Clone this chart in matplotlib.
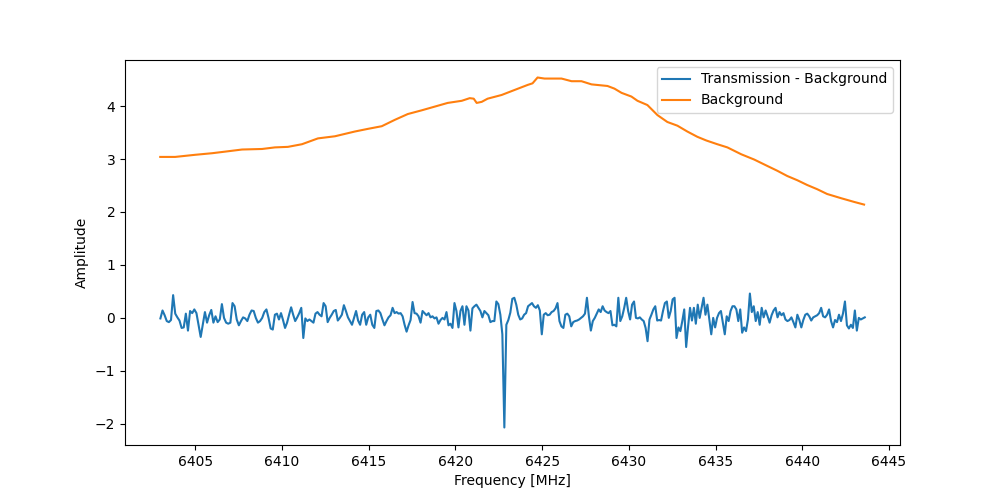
import numpy as np
import matplotlib
matplotlib.use("Agg")
import matplotlib.pyplot as plt

# Frequency edges of the segments (MHz)
seg_edges = [6403.0, 6409.6, 6416.5, 6423.4, 6430.3, 6437.2, 6443.6]

# Transmission - Background amplitude, read segment by segment
seg1 = [-0.01, 0.14, 0.05, -0.06, -0.08, -0.04, 0.43, 0.08, 0.01, -0.05,
        -0.19, -0.18, 0.08, -0.24, 0.13, 0.09, 0.16, 0.09, -0.13, -0.36,
        -0.13, 0.11, -0.09, 0.05, 0.15, -0.09, 0.03, -0.08, -0.03, 0.26,
        0.00, -0.09, -0.11, -0.09, 0.28, 0.22, -0.03, -0.14, -0.06, 0.01,
        -0.01, -0.06, 0.06, 0.14, 0.13, 0.00, -0.09, -0.06, 0.00, 0.11,
        0.16, 0.00, -0.20, -0.22]
seg2 = [0.06, 0.08, -0.03, 0.09, -0.04, -0.19, -0.09, 0.06, 0.20, 0.06,
        -0.06, 0.01, 0.09, 0.19, -0.38, -0.01, -0.06, -0.03, -0.06, -0.09,
        0.08, 0.11, 0.06, 0.03, 0.28, 0.22, -0.08, 0.00, 0.06, 0.13,
        0.15, -0.05, 0.00, 0.06, 0.24, 0.13, 0.01, -0.06, -0.13, 0.00,
        0.13, -0.05, -0.13, 0.06, 0.11, -0.13, 0.01, 0.06, -0.13, -0.19,
        0.13, 0.14, 0.09, -0.03, -0.14, -0.06, 0.01, 0.05, 0.19]
seg3 = [0.09, 0.11, 0.08, 0.09, 0.03, -0.13, -0.26, -0.14, -0.04, 0.30,
        0.09, 0.08, 0.03, -0.09, 0.13, 0.09, 0.05, 0.09, 0.01, 0.03,
        -0.01, 0.01, -0.11, -0.04, 0.00, -0.03, 0.11, -0.14, -0.11, -0.19,
        0.28, 0.13, -0.18, 0.13, 0.22, -0.13, 0.22, 0.14, -0.24, 0.18,
        0.22, 0.25, 0.19, 0.13, 0.01, 0.13, 0.09, 0.05, -0.08, -0.06,
        -0.06, 0.31, 0.26, 0.06, -0.31, -2.07, -0.13, -0.04, 0.10, 0.36]
seg4 = [0.38, 0.25, 0.06, -0.03, -0.01, 0.06, 0.09, 0.22, 0.25, 0.28,
        0.22, 0.19, 0.24, 0.14, -0.31, 0.06, 0.09, 0.05, 0.06, 0.11,
        0.13, 0.18, 0.28, -0.06, -0.16, -0.19, 0.06, 0.08, 0.03, -0.16,
        -0.08, -0.06, -0.05, -0.03, 0.00, 0.03, 0.08, 0.38, 0.03, -0.24,
        -0.06, 0.00, 0.08, 0.16, 0.11, 0.22, 0.14, 0.11, 0.09, 0.13,
        -0.14, -0.13, -0.16, 0.38, -0.06, 0.03, 0.19, 0.38, 0.13, -0.03,
        0.25]
seg5 = [0.31, 0.00, -0.01, 0.01, -0.03, -0.06, -0.19, -0.44, -0.03, 0.06,
        0.16, 0.22, -0.05, -0.04, -0.05, 0.13, 0.28, 0.31, 0.00, 0.13,
        0.35, 0.38, -0.38, -0.18, -0.25, -0.06, 0.16, -0.55, -0.16, 0.19,
        -0.05, 0.19, -0.11, 0.25, 0.00, 0.19, 0.38, 0.06, 0.25, -0.03,
        -0.31, 0.00, -0.18, 0.00, 0.09, 0.13, -0.09, -0.31, 0.03, -0.06,
        0.13, 0.22, 0.22, 0.16, -0.06, 0.16, -0.28, -0.18, -0.25, -0.03,
        0.46, 0.11]
seg6 = [0.22, -0.06, 0.11, -0.13, 0.19, 0.01, 0.14, 0.03, -0.09, 0.05,
        0.14, 0.19, 0.01, 0.11, 0.05, 0.09, -0.03, -0.06, -0.04, 0.01,
        -0.08, -0.18, 0.06, -0.04, -0.18, -0.04, 0.06, 0.08, 0.03, -0.05,
        0.01, 0.03, 0.05, 0.09, 0.19, 0.03, 0.01, 0.06, 0.16, -0.06,
        -0.18, -0.04, -0.08, 0.06, -0.06, 0.08, 0.31, -0.14, -0.20, -0.13,
        -0.19, 0.14, -0.24, 0.00, -0.03, -0.01, 0.01]

# Background curve
bg_freq = [6402.99, 6403.85, 6405.00, 6405.98, 6406.73, 6407.71, 6408.86,
           6409.60, 6410.35, 6411.16, 6412.08, 6413.06, 6414.21, 6414.96,
           6415.76, 6416.51, 6417.26, 6418.06, 6418.81, 6419.56, 6420.37,
           6420.83, 6421.06, 6421.23, 6421.52, 6421.86, 6422.67, 6423.30,
           6424.17, 6424.45, 6424.74, 6425.14, 6426.12, 6426.70, 6427.27,
           6427.85, 6428.77, 6429.17, 6429.58, 6430.15, 6430.50, 6431.07,
           6431.65, 6432.22, 6432.80, 6433.37, 6433.95, 6434.47, 6435.10,
           6435.68, 6436.48, 6437.23, 6437.98, 6438.55, 6439.13, 6439.71,
           6440.28, 6440.86, 6441.43, 6442.24, 6442.99, 6443.56]
bg_amp = [3.04, 3.04, 3.08, 3.11, 3.14, 3.18, 3.19,
          3.22, 3.23, 3.28, 3.39, 3.43, 3.52, 3.57,
          3.62, 3.74, 3.85, 3.92, 3.99, 4.06, 4.10,
          4.15, 4.14, 4.06, 4.08, 4.14, 4.21, 4.29,
          4.40, 4.43, 4.54, 4.52, 4.52, 4.47, 4.47,
          4.41, 4.38, 4.33, 4.25, 4.18, 4.10, 4.02,
          3.83, 3.70, 3.63, 3.52, 3.42, 3.35, 3.28,
          3.22, 3.09, 2.99, 2.87, 2.78, 2.68, 2.60,
          2.51, 2.43, 2.34, 2.26, 2.19, 2.14]

segments = [seg1, seg2, seg3, seg4, seg5, seg6]
freq_parts = []
for i, seg in enumerate(segments):
    last = (i == len(segments) - 1)
    freq_parts.append(np.linspace(seg_edges[i], seg_edges[i + 1], len(seg),
                                  endpoint=last))
trans_freq = np.concatenate(freq_parts)
trans_amp = np.concatenate([np.array(s) for s in segments])

fig, ax = plt.subplots(figsize=(10, 5), dpi=100)
ax.plot(trans_freq, trans_amp, label="Transmission - Background")
ax.plot(bg_freq, bg_amp, label="Background")
ax.set_xlabel("Frequency [MHz]")
ax.set_ylabel("Amplitude")
ax.legend(loc="upper right")
fig.savefig("out.png", dpi=100)
